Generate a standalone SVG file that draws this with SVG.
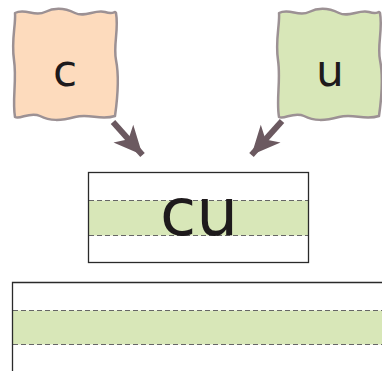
<svg xmlns="http://www.w3.org/2000/svg" width="382" height="371" viewBox="0 0 382 371">
<style>
.wavy{stroke:#9c9194;stroke-width:2.5;stroke-linejoin:round}
.lbl{font-family:"DejaVu Sans",sans-serif;fill:#1e1a1c;text-anchor:middle}
.frame{fill:none;stroke:#2a2a2a;stroke-width:1.3}
.band{fill:#d8e7b8}
.dash{stroke:#666;stroke-width:1;stroke-dasharray:5,3}
.conn{stroke:#6b5960;stroke-width:6;fill:none}
</style>
<defs>
<path id="blob" d="M15,13 C25,8 35,17 45,12 S65,8 75,13 S95,9 105,12 S114,10 116,13 C119,30 113,45 116,60 S118,95 115,116 C100,121 90,113 75,117 S50,121 40,116 S20,120 15,117 C12,100 17,80 14,60 S16,25 15,13 Z"/>
<marker id="ah" markerUnits="userSpaceOnUse" markerWidth="32" markerHeight="32" viewBox="-27 -14 29 28" refX="0" refY="0" orient="auto">
<path d="M0,0 L-26,-12 L-19,0 L-26,12 Z" fill="#6b5960"/>
</marker>
</defs>
<g id="node-c">
<use href="#blob" class="wavy" fill="#fddbbd"/>
<text class="lbl" x="65" y="86" font-size="44">c</text>
</g>
<g id="node-u">
<use href="#blob" class="wavy" fill="#d8e7b8" transform="translate(264,0)"/>
<text class="lbl" x="330" y="86" font-size="44">u</text>
</g>
<g id="connectors">
<line class="conn" x1="113" y1="122" x2="142.5" y2="155" marker-end="url(#ah)"/>
<line class="conn" x1="282" y1="121" x2="251.5" y2="155" marker-end="url(#ah)"/>
</g>
<g id="node-cu">
<rect x="88.5" y="172.5" width="220" height="90" fill="#fff"/>
<rect class="band" x="89" y="200.5" width="219" height="35"/>
<line class="dash" x1="89" y1="200.5" x2="308" y2="200.5"/>
<line class="dash" x1="89" y1="235.5" x2="308" y2="235.5"/>
<text class="lbl" x="199" y="235" font-size="66">cu</text>
<rect class="frame" x="88.5" y="172.5" width="220" height="90"/>
</g>
<g id="writing-line">
<rect class="band" x="13" y="310.5" width="369" height="34"/>
<line class="dash" x1="13" y1="310.5" x2="382" y2="310.5"/>
<line class="dash" x1="13" y1="344.5" x2="382" y2="344.5"/>
<path class="frame" d="M12.5,371 V282.5 H382"/>
</g>
</svg>
